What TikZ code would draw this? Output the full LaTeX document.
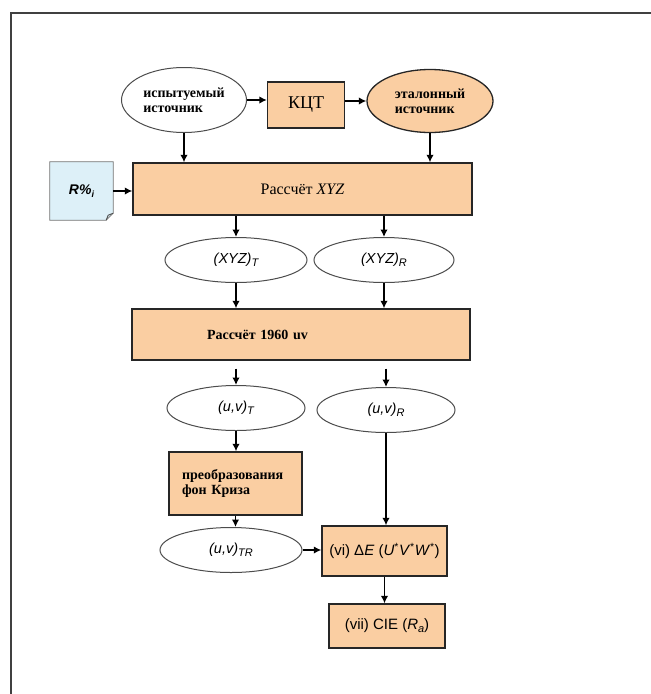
\documentclass[tikz,border=0pt]{standalone}
\usepackage{fontspec}
\setmainfont{Liberation Serif}
\setsansfont{Liberation Sans}
\usetikzlibrary{shapes.geometric,arrows.meta,calc,backgrounds}
\definecolor{boxor}{RGB}{250,206,162}
\definecolor{notebl}{RGB}{221,240,248}
\begin{document}
\begin{tikzpicture}[x=1pt,y=-1pt,
  box/.style={draw=black!85, line width=1.4pt, fill=boxor, inner sep=0pt},
  ell/.style={ellipse, draw=black!70, line width=1pt, fill=white, inner sep=0pt},
  arr/.style={-{Latex[length=7.5pt,width=7.5pt]}, line width=1.8pt},
  sfl/.style={font=\sffamily\itshape\fontsize{14.5}{16}\selectfont},
  srb/.style={font=\bfseries\fontsize{14}{15}\selectfont}]
\useasboundingbox (0,0) rectangle (651,694);
\draw[line width=1.5pt, black!75] (11,694) -- (11,13) -- (651,13);

% top row
\node[ell, srb, minimum width=125pt, minimum height=65pt, align=left] (test) at (184,100) {испытуемый\\источник};
\node[box, minimum width=77pt, minimum height=46pt, font=\fontsize{18}{20}\selectfont] (kct) at (306,105) {КЦТ};
\node[ell, srb, fill=boxor, draw=black!85, line width=1.3pt, minimum width=126pt, minimum height=63pt, align=left] (ref) at (430,101) {эталонный\\источник};

% XYZ box and note
\node[box, minimum width=339pt, minimum height=52pt, font=\fontsize{16}{18}\selectfont] (xyz) at (302.5,189) {Рассчёт \textit{XYZ}};
\node[minimum width=63pt, minimum height=58pt, inner sep=0pt, font=\sffamily\bfseries\itshape\fontsize{14}{16}\selectfont] (note) at (81.5,191) {R\%\raisebox{-0.35ex}{\fontsize{9}{10}\selectfont i}};
\begin{scope}[on background layer]
\draw[fill=notebl, draw=black!55, line width=0.8pt]
  (note.north west) -- (note.north east) -- ($(note.south east)+(0,-7)$)
  -- ($(note.south east)+(-7,0)$) -- (note.south west) -- cycle;
\draw[black!70, line width=0.9pt] ($(note.south east)+(-7,0)$) -- ($(note.south east)+(-5,-5)$) -- ($(note.south east)+(0,-7)$);
\end{scope}

% XYZ ellipses
\node[ell, sfl, minimum width=142pt, minimum height=45pt] (xyzT) at (236,260) {(XYZ)\raisebox{-0.4ex}{\fontsize{11}{12}\selectfont T}};
\node[ell, sfl, minimum width=140pt, minimum height=45pt] (xyzR) at (384,260) {(XYZ)\raisebox{-0.4ex}{\fontsize{11}{12}\selectfont R}};

% 1960 uv box
\node[box, srb, minimum height=51pt, inner xsep=75pt, text width=188pt, align=left] (uvbox) at (301,334.5) {Рассчёт 1960 uv};

% uv ellipses
\node[ell, sfl, minimum width=138pt, minimum height=45pt] (uvT) at (236,408) {(u,v)\raisebox{-0.4ex}{\fontsize{11}{12}\selectfont T}};
\node[ell, sfl, minimum width=138pt, minimum height=45pt] (uvR) at (386,410) {(u,v)\raisebox{-0.4ex}{\fontsize{11}{12}\selectfont R}};

% von Kries box
\node[box, srb, minimum height=63pt, inner xsep=13pt, text width=107pt, align=left] (kriz) at (235.5,483.5) {преобразования\\фон Криза};

% uvTR ellipse
\node[ell, sfl, minimum width=142pt, minimum height=45pt] (uvTR) at (231,550) {(u,v)\raisebox{-0.4ex}{\fontsize{11}{12}\selectfont TR}};

% Delta E and CIE boxes
\node[box, minimum width=125pt, minimum height=50pt, font=\sffamily\fontsize{15}{17}\selectfont] (dE) at (384.5,551) {(vi) Δ\textit{E} (\textit{U}\textsuperscript{*}\textit{V}\textsuperscript{*}\textit{W}\textsuperscript{*})};
\node[box, minimum width=116pt, minimum height=44pt, font=\sffamily\fontsize{15}{17}\selectfont] (cie) at (387,626) {(vii) CIE (\textit{R}\raisebox{-0.4ex}{\fontsize{11}{12}\selectfont\textit{a}})};

% connectors
\draw[arr] (test.east) -- (test.east -| kct.west);
\draw[arr] (kct.east |- ref) -- (ref.west);
\draw[arr] (test.south) -- (test.south |- xyz.north);
\draw[arr] (ref.south) -- (ref.south |- xyz.north);
\draw[arr] (note.east) -- (note.east -| xyz.west);
\draw[arr] (xyzT.north |- xyz.south) -- (xyzT.north);
\draw[arr] (xyzR.north |- xyz.south) -- (xyzR.north);
\draw[arr] (xyzT.south) -- (xyzT.south |- uvbox.north);
\draw[arr] (xyzR.south) -- (xyzR.south |- uvbox.north);
\draw[arr, shorten <=8pt] (uvT.north |- uvbox.south) -- (uvT.north);
\draw[arr, shorten <=8pt] (uvR.north |- uvbox.south) -- (uvR.north);
\draw[arr] (uvT.south) -- (uvT.south |- kriz.north);
\draw[arr] (uvR.south) -- (uvR.south |- dE.north);
\draw[arr] (kriz.south) -- (kriz.south |- uvTR.north);
\draw[arr] (uvTR.east) -- (uvTR.east -| dE.west);
\draw[arr] (dE.south) -- (dE.south |- cie.north);
\end{tikzpicture}
\end{document}
